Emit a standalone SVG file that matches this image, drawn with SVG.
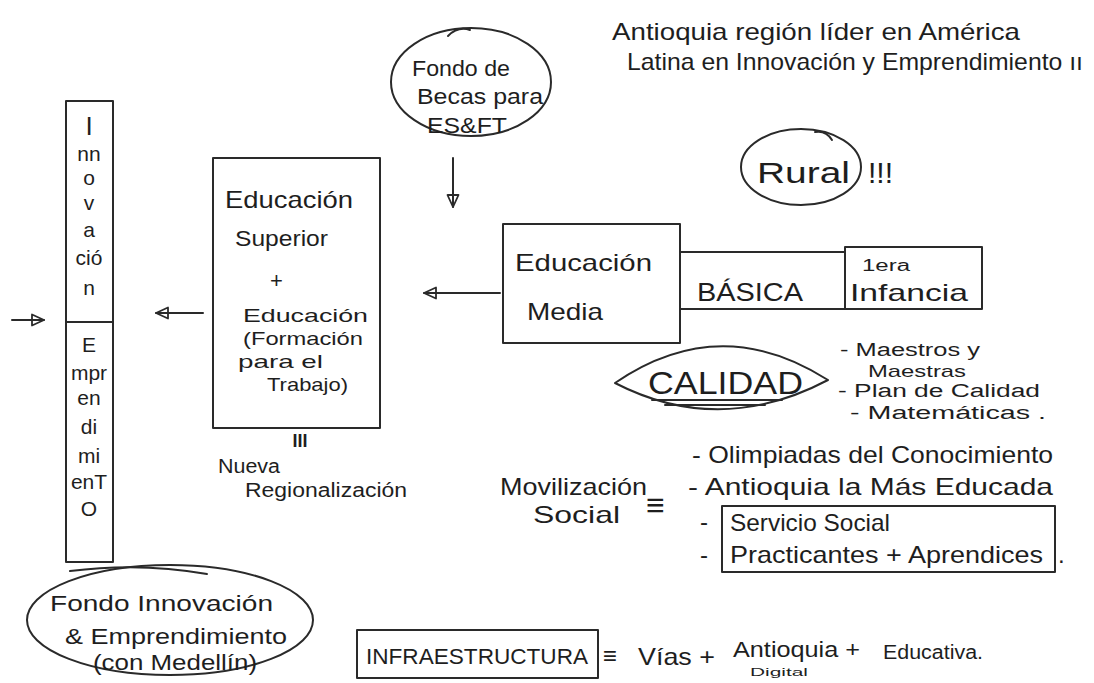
<svg xmlns="http://www.w3.org/2000/svg" width="1094" height="683" viewBox="0 0 1094 683" font-size="22">
<style>
.s{fill:none;stroke:#2a2a2a;stroke-width:2;stroke-linecap:round;stroke-linejoin:round}
.t{font-family:"Liberation Sans","DejaVu Sans",sans-serif;fill:#1e1e1e}
.m{text-anchor:middle}
</style>
<defs>
<marker id="ah" viewBox="0 0 14 14" refX="13" refY="7" markerWidth="14" markerHeight="14" markerUnits="userSpaceOnUse" orient="auto">
<path d="M1,1.5 L13,7 L1,12.5 Z" fill="none" stroke="#2a2a2a" stroke-width="1.8" stroke-linejoin="round"/>
</marker>
</defs>
<rect width="1094" height="683" fill="#fff"/>

<g id="title">
<text class="t" x="612" y="40" font-size="24" textLength="408" lengthAdjust="spacingAndGlyphs">Antioquia región líder en América</text>
<text class="t" x="627" y="70" font-size="24" textLength="456" lengthAdjust="spacingAndGlyphs">Latina en Innovación y Emprendimiento ıı</text>
</g>

<g id="fondo-becas">
<ellipse class="s" cx="471" cy="82" rx="80" ry="54"/>
<path class="s" d="M448,36 Q458,26 470,30"/>
<text class="t" x="412" y="76" textLength="98" lengthAdjust="spacingAndGlyphs">Fondo de</text>
<text class="t" x="417" y="104" textLength="126" lengthAdjust="spacingAndGlyphs">Becas para</text>
<text class="t" x="427" y="133" textLength="80" lengthAdjust="spacingAndGlyphs">ES&amp;FT</text>
</g>

<g id="rural">
<ellipse class="s" cx="801" cy="167" rx="60" ry="38"/>
<path class="s" d="M815,132 Q826,130 832,140"/>
<text class="t" x="757" y="183" font-size="30" textLength="93" lengthAdjust="spacingAndGlyphs">Rural</text>
<text class="t" x="868" y="183" font-size="30">!!!</text>
</g>

<g id="educacion-media">
<rect class="s" x="503" y="224" width="177" height="119"/>
<text class="t" x="515" y="271" font-size="24" textLength="137" lengthAdjust="spacingAndGlyphs">Educación</text>
<text class="t" x="527" y="320" font-size="24" textLength="76" lengthAdjust="spacingAndGlyphs">Media</text>
</g>

<g id="basica">
<rect class="s" x="680" y="252" width="165" height="57"/>
<text class="t" x="697" y="301" font-size="26" textLength="106" lengthAdjust="spacingAndGlyphs">BÁSICA</text>
</g>

<g id="primera-infancia">
<rect class="s" x="845" y="247" width="137" height="62"/>
<text class="t" x="862" y="271" font-size="16" textLength="48" lengthAdjust="spacingAndGlyphs">1era</text>
<text class="t" x="850" y="301" font-size="24" textLength="118" lengthAdjust="spacingAndGlyphs">Infancia</text>
</g>

<g id="educacion-superior">
<rect class="s" x="213" y="158" width="167" height="270"/>
<text class="t" x="225" y="208" font-size="24" textLength="128" lengthAdjust="spacingAndGlyphs">Educación</text>
<text class="t" x="235" y="246" textLength="93" lengthAdjust="spacingAndGlyphs">Superior</text>
<text class="t" x="270" y="288">+</text>
<text class="t" x="243" y="322" font-size="19" textLength="125" lengthAdjust="spacingAndGlyphs">Educación</text>
<text class="t" x="243" y="345" font-size="19" textLength="120" lengthAdjust="spacingAndGlyphs">(Formación</text>
<text class="t" x="238" y="368" font-size="19" textLength="85" lengthAdjust="spacingAndGlyphs">para el</text>
<text class="t" x="267" y="391" font-size="19" textLength="81" lengthAdjust="spacingAndGlyphs">Trabajo)</text>
</g>

<g id="nueva-regionalizacion">
<text class="t m" x="300" y="447" font-size="18" font-weight="bold">III</text>
<text class="t" x="218" y="473" font-size="20" textLength="62" lengthAdjust="spacingAndGlyphs">Nueva</text>
<text class="t" x="245" y="497" font-size="20" textLength="162" lengthAdjust="spacingAndGlyphs">Regionalización</text>
</g>

<g id="innovacion-emprendimiento">
<rect class="s" x="66" y="101" width="47" height="461"/>
<line class="s" x1="66" y1="322" x2="113" y2="322"/>
<g class="t m" font-size="21">
<text x="89" y="135" font-size="26">I</text>
<text x="89" y="161">nn</text>
<text x="89" y="185">o</text>
<text x="89" y="210">v</text>
<text x="89" y="237">a</text>
<text x="89" y="265">ció</text>
<text x="89" y="295">n</text>
<text x="89" y="352">E</text>
<text x="89" y="380">mpr</text>
<text x="89" y="405">en</text>
<text x="89" y="434">di</text>
<text x="89" y="463">mi</text>
<text x="89" y="489">enT</text>
<text x="89" y="516">O</text>
</g>
</g>

<g id="fondo-innovacion">
<ellipse class="s" cx="170" cy="620" rx="143" ry="55"/>
<path class="s" d="M70,571 Q140,562 207,574"/>
<text class="t" x="50" y="611" textLength="223" lengthAdjust="spacingAndGlyphs">Fondo Innovación</text>
<text class="t" x="65" y="644" textLength="222" lengthAdjust="spacingAndGlyphs">&amp; Emprendimiento</text>
<text class="t" x="93" y="670" textLength="164" lengthAdjust="spacingAndGlyphs">(con Medellín)</text>
</g>

<g id="calidad">
<path class="s" d="M615,383 Q720,311 828,380 Q720,437 615,383 Z"/>
<text class="t" x="648" y="394" font-size="32" textLength="155" lengthAdjust="spacingAndGlyphs">CALIDAD</text>
<line class="s" x1="652" y1="400" x2="782" y2="400"/>
<line class="s" x1="665" y1="405" x2="765" y2="405"/>
</g>

<g id="calidad-lista">
<text class="t" x="840" y="356" font-size="18" textLength="140" lengthAdjust="spacingAndGlyphs">- Maestros y</text>
<text class="t" x="868" y="377" font-size="17" textLength="98" lengthAdjust="spacingAndGlyphs">Maestras</text>
<text class="t" x="838" y="397" font-size="18" textLength="202" lengthAdjust="spacingAndGlyphs">- Plan de Calidad</text>
<text class="t" x="850" y="419" font-size="18" textLength="196" lengthAdjust="spacingAndGlyphs">- Matemáticas .</text>
</g>

<g id="movilizacion-social">
<text class="t" x="500" y="495" font-size="24" textLength="147" lengthAdjust="spacingAndGlyphs">Movilización</text>
<text class="t" x="533" y="523" font-size="24" textLength="87" lengthAdjust="spacingAndGlyphs">Social</text>
<text class="t" x="646" y="516" font-size="32">≡</text>
</g>

<g id="movilizacion-lista">
<text class="t" x="692" y="463" font-size="24" textLength="361" lengthAdjust="spacingAndGlyphs">- Olimpiadas del Conocimiento</text>
<text class="t" x="688" y="495" font-size="24" textLength="365" lengthAdjust="spacingAndGlyphs">- Antioquia la Más Educada</text>
<rect class="s" x="722" y="506" width="333" height="66"/>
<text class="t" x="700" y="530" font-size="24">-</text>
<text class="t" x="730" y="531" font-size="24" textLength="160" lengthAdjust="spacingAndGlyphs">Servicio Social</text>
<text class="t" x="700" y="563" font-size="24">-</text>
<text class="t" x="730" y="563" font-size="24" textLength="313" lengthAdjust="spacingAndGlyphs">Practicantes + Aprendices</text>
<text class="t" x="1058" y="563" font-size="24">.</text>
</g>

<g id="infraestructura">
<rect class="s" x="357" y="630" width="241" height="48"/>
<text class="t" x="366" y="664" font-size="22" textLength="222" lengthAdjust="spacingAndGlyphs">INFRAESTRUCTURA</text>
<text class="t" x="603" y="664" font-size="24">≡</text>
<text class="t" x="638" y="665" font-size="24" textLength="77" lengthAdjust="spacingAndGlyphs">Vías +</text>
<text class="t" x="733" y="657" font-size="22" textLength="127" lengthAdjust="spacingAndGlyphs">Antioquia +</text>
<text class="t" x="750" y="676" font-size="11" textLength="58" lengthAdjust="spacingAndGlyphs">Digital</text>
<text class="t" x="883" y="659" font-size="20" textLength="100" lengthAdjust="spacingAndGlyphs">Educativa.</text>
</g>

<g id="connectors">
<line class="s" x1="453" y1="158" x2="453" y2="207" marker-end="url(#ah)"/>
<line class="s" x1="500" y1="293" x2="424" y2="293" marker-end="url(#ah)"/>
<line class="s" x1="203" y1="313" x2="156" y2="313" marker-end="url(#ah)"/>
<line class="s" x1="12" y1="320" x2="44" y2="320" marker-end="url(#ah)"/>
</g>
</svg>
